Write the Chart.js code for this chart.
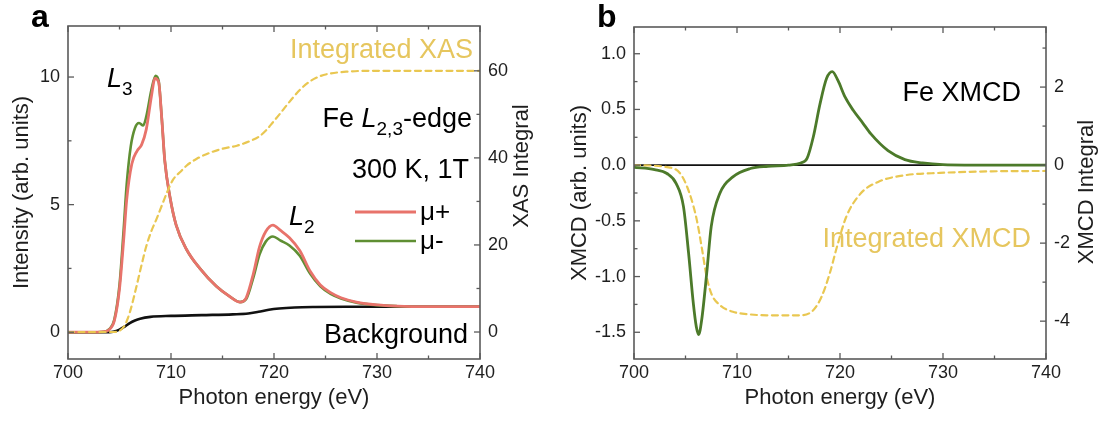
<!DOCTYPE html>
<html><head><meta charset="utf-8">
<script src="https://cdn.jsdelivr.net/npm/chart.js@4/dist/chart.umd.min.js"></script>
<style>
html,body{margin:0;padding:0;background:#fff;}
#wrap{position:relative;width:1102px;height:425px;overflow:hidden;}
.panel{position:absolute;top:0;width:551px;height:425px;}
#pa{left:0;} #pb{left:551px;}
canvas{display:block;}
</style></head><body>
<div id="wrap">
<div class="panel" id="pa"><canvas id="ca" width="551" height="425"></canvas></div>
<div class="panel" id="pb"><canvas id="cb" width="551" height="425"></canvas></div>
</div>
<script>
// ---------------- DATA ----------------
// Panel a : XAS
const muPlusE = [700,702,703.5,704,704.5,705,705.4,705.7,706.2,706.7,707.15,707.6,708.1,708.45,708.8,709.1,709.4,709.9,710.5,711.5,712.8,714.4,715.7,716.7,717.3,718,718.6,719.2,719.9,720.6,721.5,722.5,723.5,724.5,725.5,726.5,728,730,732,735,740];
const muPlusI = [0,0,0.02,0.1,0.45,1.7,3.6,5.2,6.6,7.1,7.35,7.95,9.25,9.95,9.8,8.4,6.7,5.3,4.2,3.25,2.5,1.8,1.4,1.18,1.35,2.3,3.35,3.95,4.2,4.0,3.7,3.2,2.4,1.85,1.55,1.35,1.18,1.07,1.02,1.0,1.0];
const muMinusE = [700,702,703.5,704,704.5,705,705.4,705.7,706.1,706.5,706.9,707.3,707.6,708.1,708.5,708.8,709.1,709.4,709.9,710.5,711.5,712.8,714.4,715.7,716.7,717.3,718,718.6,719.2,719.9,720.6,721.5,722.5,723.5,724.5,725.5,726.5,728,730,732,735,740];
const muMinusI = [0,0,0.02,0.12,0.5,1.85,4.0,5.8,7.3,8.0,8.2,8.1,8.45,9.5,10.05,9.85,8.4,6.7,5.3,4.2,3.25,2.5,1.8,1.4,1.18,1.3,2.15,3.05,3.55,3.75,3.6,3.4,3.0,2.3,1.8,1.5,1.32,1.16,1.06,1.02,1.0,1.0];
const bgE = [700,704,704.5,705,705.5,706,706.5,707,708,710,713,716,717.5,718.5,719.5,720.5,722,724,727,732,740];
const bgI = [0,0,0.03,0.1,0.22,0.36,0.46,0.53,0.6,0.64,0.67,0.7,0.73,0.8,0.88,0.93,0.97,0.99,1.0,1.0,1.0];
const intXasE = [700,704.5,705,705.5,706,706.6,707.1,707.6,708.1,708.6,709.1,709.6,710.2,711,711.5,712.5,713.8,715,716.4,717.6,718.6,719.3,719.9,720.6,721.2,721.9,722.5,723.5,724.5,725.5,727,729,732,736,740];
const intXasV = [0,0,0.3,1.5,4.5,10,15,19.7,23.2,26,29,32,35,37,38.2,39.8,41.2,42.1,42.8,43.8,45,46.5,48.2,50.2,52,54,55.6,57.6,58.8,59.4,59.8,60,60,60,60];
// Panel b : XMCD
const xmcdE = [700,702,703.2,704.1,704.8,705.3,705.76,706.05,706.28,706.57,707.06,707.5,708.35,709.6,711.3,713,715,716.2,716.8,717.4,718.06,718.7,719.25,719.8,720.5,721.3,722.2,723,724.66,726.3,728,730,735,740];
const xmcdV = [-0.02,-0.04,-0.075,-0.165,-0.37,-0.79,-1.24,-1.45,-1.52,-1.39,-0.97,-0.55,-0.25,-0.105,-0.03,-0.01,0,0.02,0.06,0.25,0.55,0.78,0.84,0.76,0.61,0.49,0.38,0.28,0.13,0.05,0.02,0.005,0,0];
const intXmcdE = [700,703.2,704.5,705.4,706.1,706.57,707.06,707.5,708.35,709.6,711,712.9,716.1,717.4,718.2,719,719.7,720.6,722,723.7,726.3,729.7,734.7,740];
const intXmcdV = [0,-0.05,-0.22,-0.73,-1.41,-2.1,-2.87,-3.29,-3.59,-3.76,-3.82,-3.85,-3.85,-3.72,-3.38,-2.78,-2.1,-1.33,-0.73,-0.43,-0.26,-0.2,-0.16,-0.15];
const zeroE = [700,740];
const zeroV = [0,0];
// Tick values
const xTicks = [700,710,720,730,740];
const xMinor = [705,715,725,735];
const aYTicks = [0,5,10];
const aYMinor = [2.5,7.5];
const aY2Ticks = [0,20,40,60];
const aY2Minor = [10,30,50];
const bYTicks = [-1.5,-1.0,-0.5,0.0,0.5,1.0];
const bYMinor = [-1.25,-0.75,-0.25,0.25,0.75];
const bY2Ticks = [-4,-2,0,2];
const bY2Minor = [-3,-1,1,3];

// ---------------- STYLE ----------------
const FONT = "'Liberation Sans', Arial, Helvetica, sans-serif";
const TXT = '#1e1e1e';
const FRAME = '#5a5a5a';
const RED = '#e8736b';
const GREEN = '#5f8f33';
const DGREEN = '#4c7a2a';
const YEL = '#e9c751';
const YELTXT = '#e6c65e';
const TITLE_SIZE = 22;

function pts(xs, ys){ const n=Math.min(xs.length, ys.length); const o=[]; for(let i=0;i<n;i++) o.push({x:xs[i], y:ys[i]}); return o; }

function rich(ctx, parts, x, y, align, size, color){
  ctx.save();
  ctx.fillStyle = color; ctx.textBaseline = 'alphabetic'; ctx.textAlign = 'left';
  const f = p => (p.i ? 'italic ' : '') + (p.s ? Math.round(size*0.7) : size) + 'px ' + FONT;
  let w = 0;
  parts.forEach(p => { ctx.font = f(p); w += ctx.measureText(p.t).width; });
  let cx = align === 'right' ? x - w : (align === 'center' ? x - w/2 : x);
  parts.forEach(p => { ctx.font = f(p); ctx.fillText(p.t, cx, y + (p.s ? size*0.28 : 0)); cx += ctx.measureText(p.t).width; });
  ctx.restore();
}
function vtext(ctx, text, x, y, size, color){
  ctx.save(); ctx.translate(x, y); ctx.rotate(-Math.PI/2);
  ctx.font = size + 'px ' + FONT; ctx.fillStyle = color; ctx.textAlign = 'center'; ctx.textBaseline = 'middle';
  ctx.fillText(text, 0, 0); ctx.restore();
}

function decor(t){
  return {
    id: 'decor',
    afterDatasetsDraw(chart){
      const ctx = chart.ctx, ca = chart.chartArea;
      const xs = chart.scales.x, yl = chart.scales.y, yr = chart.scales.y2;
      const MAJ = 6, MIN = 3.5;
      ctx.save();
      ctx.strokeStyle = FRAME; ctx.lineWidth = 1.6;
      ctx.strokeRect(ca.left, ca.top, ca.right - ca.left, ca.bottom - ca.top);
      ctx.lineWidth = 1.3;
      const seg = (a,b,c,d) => { ctx.beginPath(); ctx.moveTo(a,b); ctx.lineTo(c,d); ctx.stroke(); };
      const xt = (vals, L) => vals.forEach(v => { const p = xs.getPixelForValue(v); seg(p, ca.bottom, p, ca.bottom - L); seg(p, ca.top, p, ca.top + L); });
      xt(t.xMajor, MAJ); xt(t.xMinor, MIN);
      t.yMajor.forEach(v => { const p = yl.getPixelForValue(v); seg(ca.left, p, ca.left + MAJ, p); });
      t.yMinor.forEach(v => { const p = yl.getPixelForValue(v); seg(ca.left, p, ca.left + MIN, p); });
      t.y2Major.forEach(v => { const p = yr.getPixelForValue(v); seg(ca.right, p, ca.right - MAJ, p); });
      t.y2Minor.forEach(v => { const p = yr.getPixelForValue(v); seg(ca.right, p, ca.right - MIN, p); });
      ctx.restore();
    },
    afterDraw(chart){ t.draw(chart.ctx, chart); }
  };
}

function scalesFor(cfg){
  const tickFont = {family: FONT, size: 18};
  const titleFont = {family: FONT, size: TITLE_SIZE};
  return {
    x: {type:'linear', position:'bottom', min:700, max:740,
        grid:{display:false, drawTicks:false}, border:{display:false},
        afterBuildTicks: s => { s.ticks = xTicks.map(v => ({value:v})); },
        afterFit: s => { s.height = cfg.xh; },
        ticks:{font:tickFont, color:TXT, padding:3, maxRotation:0, autoSkip:false, callback: v => String(v)},
        title:{display:true, text:'Photon energy (eV)', font:titleFont, color:TXT, padding:{top:0, bottom:14}}},
    y: {type:'linear', position:'left', min:cfg.yMin, max:cfg.yMax,
        grid:{display:false, drawTicks:false}, border:{display:false},
        afterBuildTicks: s => { s.ticks = cfg.yTicks.map(v => ({value:v})); },
        afterFit: s => { s.width = cfg.yw; },
        ticks:{font:tickFont, color:TXT, padding:8, autoSkip:false, callback: cfg.yFmt},
        title:{display:true, text:cfg.yTitle, font:titleFont, color:TXT, padding:{top:cfg.yTitlePad, bottom:0}}},
    y2: {type:'linear', position:'right', min:cfg.y2Min, max:cfg.y2Max,
        grid:{display:false, drawTicks:false}, border:{display:false},
        afterBuildTicks: s => { s.ticks = cfg.y2Ticks.map(v => ({value:v})); },
        afterFit: s => { s.width = cfg.y2w; },
        ticks:{font:tickFont, color:TXT, padding:8, autoSkip:false, callback: v => String(v)},
        title:{display:false, text:cfg.y2Title}}
  };
}

const baseOpts = {
  responsive:false, animation:false, devicePixelRatio:1,
  plugins:{legend:{display:false}, tooltip:{enabled:false}},
  elements:{point:{radius:0}, line:{cubicInterpolationMode:'monotone', borderCapStyle:'round', borderJoinStyle:'round'}}
};

// ---------------- PANEL A ----------------
new Chart(document.getElementById('ca'), {
  type:'line',
  data:{datasets:[
    {label:'Integrated XAS', data:pts(intXasE,intXasV), yAxisID:'y2', borderColor:YEL, borderWidth:2.2, borderDash:[6,4.5], fill:false},
    {label:'\u03bc+', data:pts(muPlusE,muPlusI), yAxisID:'y', borderColor:RED, borderWidth:2.8, fill:false},
    {label:'\u03bc-', data:pts(muMinusE,muMinusI), yAxisID:'y', borderColor:GREEN, borderWidth:2.6, fill:false},
    {label:'Background', data:pts(bgE,bgI), yAxisID:'y', borderColor:'#111', borderWidth:2.6, fill:false}
  ]},
  options:Object.assign({}, baseOpts, {
    layout:{padding:{top:26, bottom:0, left:0, right:0}},
    scales: scalesFor({xh:66, yMin:-1.05, yMax:12, yTicks:aYTicks, yw:68, yFmt: v => String(v),
      yTitle:'Intensity (arb. units)', yTitlePad:9, y2Min:-6.2, y2Max:70.3, y2Ticks:aY2Ticks, y2w:71, y2Title:'XAS Integral'})
  }),
  plugins:[decor({xMajor:xTicks, xMinor:xMinor, yMajor:aYTicks, yMinor:aYMinor, y2Major:aY2Ticks, y2Minor:aY2Minor,
    draw(ctx){
      ctx.save();
      ctx.fillStyle = '#000'; ctx.font = 'bold 32px ' + FONT; ctx.textAlign = 'left'; ctx.textBaseline = 'alphabetic';
      ctx.fillText('a', 31, 27);
      ctx.restore();
      vtext(ctx, 'XAS Integral', 522, 166, TITLE_SIZE, TXT);
      rich(ctx, [{t:'L', i:1}, {t:'3', s:1}], 107, 87, 'left', 27, '#000');
      rich(ctx, [{t:'L', i:1}, {t:'2', s:1}], 289, 225, 'left', 27, '#000');
      rich(ctx, [{t:'Integrated XAS'}], 473, 58, 'right', 27, YELTXT);
      rich(ctx, [{t:'Fe '}, {t:'L', i:1}, {t:'2,3', s:1}, {t:'-edge'}], 472, 127, 'right', 27, '#000');
      rich(ctx, [{t:'300 K, 1T'}], 469, 178, 'right', 27, '#000');
      ctx.save();
      ctx.lineWidth = 2.8; ctx.strokeStyle = RED; ctx.beginPath(); ctx.moveTo(355, 212); ctx.lineTo(416, 212); ctx.stroke();
      ctx.lineWidth = 2.6; ctx.strokeStyle = GREEN; ctx.beginPath(); ctx.moveTo(355, 241); ctx.lineTo(416, 241); ctx.stroke();
      ctx.restore();
      rich(ctx, [{t:'\u03bc+'}], 420, 220, 'left', 26, '#000');
      rich(ctx, [{t:'\u03bc-'}], 420, 249, 'left', 26, '#000');
      rich(ctx, [{t:'Background'}], 468, 343, 'right', 27, '#000');
    }})]
});

// ---------------- PANEL B ----------------
new Chart(document.getElementById('cb'), {
  type:'line',
  data:{datasets:[
    {label:'Fe XMCD', data:pts(xmcdE,xmcdV), yAxisID:'y', borderColor:DGREEN, borderWidth:2.8, fill:false},
    {label:'Integrated XMCD', data:pts(intXmcdE,intXmcdV), yAxisID:'y2', borderColor:YEL, borderWidth:2.2, borderDash:[6,4.5], fill:false},
    {label:'zero', data:pts(zeroE,zeroV), yAxisID:'y', borderColor:'#111', borderWidth:1.6, fill:false, cubicInterpolationMode:'default', tension:0}
  ]},
  options:Object.assign({}, baseOpts, {
    layout:{padding:{top:27, bottom:0, left:0, right:0}},
    scales: scalesFor({xh:66, yMin:-1.74, yMax:1.24, yTicks:bYTicks, yw:83, yFmt: v => Number(v).toFixed(1),
      yTitle:'XMCD (arb. units)', yTitlePad:16, y2Min:-4.97, y2Max:3.54, y2Ticks:bY2Ticks, y2w:56, y2Title:'XMCD Integral'})
  }),
  plugins:[decor({xMajor:xTicks, xMinor:xMinor, yMajor:bYTicks, yMinor:bYMinor, y2Major:bY2Ticks, y2Minor:bY2Minor,
    draw(ctx){
      ctx.save();
      ctx.fillStyle = '#000'; ctx.font = 'bold 32px ' + FONT; ctx.textAlign = 'left'; ctx.textBaseline = 'alphabetic';
      ctx.fillText('b', 46, 27);
      ctx.restore();
      vtext(ctx, 'XMCD Integral', 536, 192, TITLE_SIZE, TXT);
      rich(ctx, [{t:'Fe XMCD'}], 470, 101, 'right', 27, '#000');
      rich(ctx, [{t:'Integrated XMCD'}], 480, 247, 'right', 27, YELTXT);
    }})]
});
</script>
</body></html>
